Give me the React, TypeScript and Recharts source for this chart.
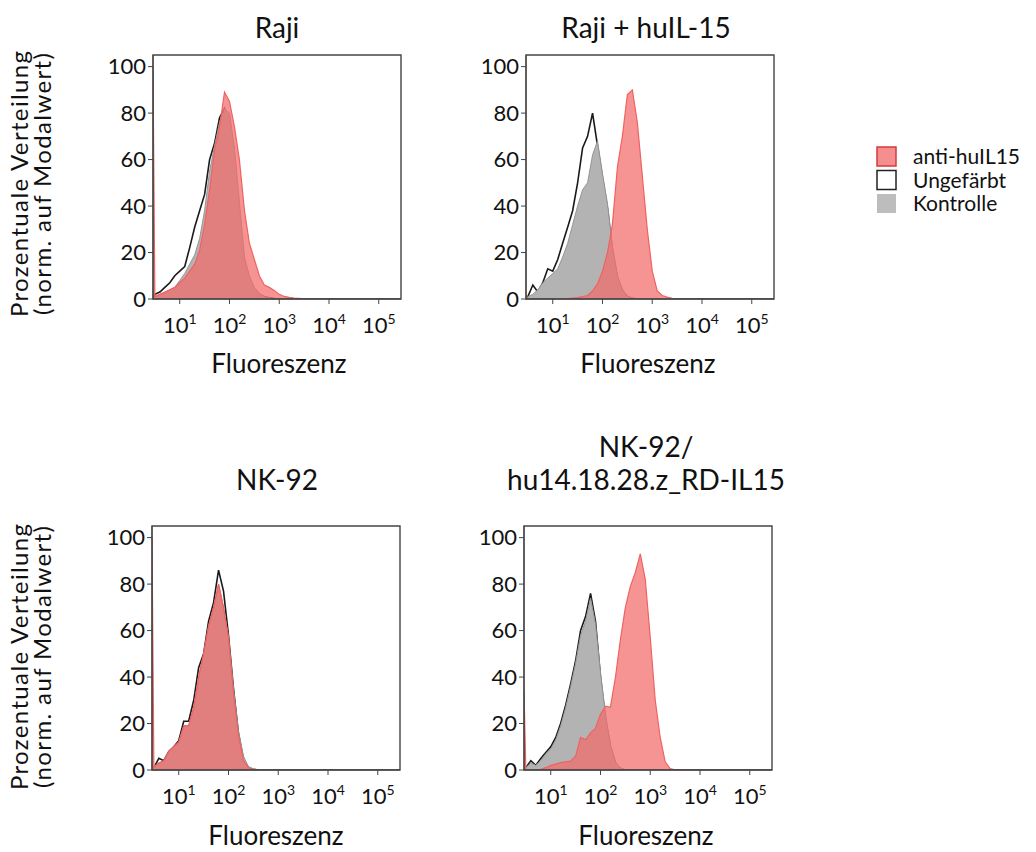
import React from 'react';
import { AreaChart, Area, XAxis, YAxis, ReferenceArea } from 'recharts';

const FONT = 'Lato, "Open Sans", sans-serif';

// log-spaced fluorescence bins shared by all panels (first/last = axis limits)
const FLUOR = [
  2.9, 3.16, 3.98, 5.01, 6.31, 7.94, 10, 12.6, 15.8, 20, 25.1, 31.6, 39.8, 50.1, 63.1, 79.4,
  100, 126, 158, 200, 251, 316, 398, 501, 631, 794, 1000, 1259, 1585, 1995, 2512, 3162, 3981,
  5012, 280000,
];
const X_TICKS = [10, 100, 1000, 10000, 100000];
const Y_TICKS = [0, 20, 40, 60, 80, 100];

// Raji
const RAJI_ANTI = [100, 1, 2, 3, 4, 5, 7, 9, 12, 15, 21, 32, 47, 64, 74, 89, 85, 74, 60, 38, 24, 17, 10, 6, 5, 3.7, 2, 1.1, 0.7, 0.4, 0.3, 0.1, 0, 0, 0];
const RAJI_UNST = [0, 2, 3, 5, 7, 10, 12, 14, 22, 31, 38, 45, 60, 67, 78, 82, 72, 50, 30, 16, 8, 4, 2, 1, 0.5, 0.2, 0, 0, 0, 0, 0, 0, 0, 0, 0];
const RAJI_CTRL = [0, 1, 2, 2.5, 4, 5, 8, 11, 15, 19, 26, 38, 55, 66, 76, 82, 80, 65, 42, 18, 10, 5, 2.5, 1, 0.5, 0, 0, 0, 0, 0, 0, 0, 0, 0, 0];

// Raji + huIL-15
const RAJI15_ANTI = [1.5, 0, 0, 0, 0, 0, 0, 0, 0, 0.2, 0.4, 0.6, 1, 1.5, 3.5, 6.5, 12, 20, 32, 57, 70, 88, 90, 76, 53, 30, 12, 3.5, 1.5, 0.8, 0.3, 0.1, 0, 0, 0];
const RAJI15_UNST = [0, 1, 6, 3, 7, 13, 12, 17, 24, 31, 38, 50, 65, 70, 80, 66, 52, 39, 21, 9, 3.5, 1, 0.3, 0, 0, 0, 0, 0, 0, 0, 0, 0, 0, 0, 0];
const RAJI15_CTRL = [0, 1, 2, 4, 7, 9, 11, 13, 18, 24, 32, 40, 47, 50, 62, 68, 54, 41, 23, 10, 4, 1.2, 0.3, 0, 0, 0, 0, 0, 0, 0, 0, 0, 0, 0, 0];

// NK-92
const NK_ANTI = [100, 1.5, 3, 4, 8, 10, 12, 19, 19, 27, 40, 50, 62, 70, 80, 70, 57, 33, 15, 4, 1, 0.3, 0, 0, 0, 0, 0, 0, 0, 0, 0, 0, 0, 0, 0];
const NK_UNST = [0, 1, 5, 4, 8, 10, 12.6, 21, 21, 30, 44, 50, 64, 72, 86, 77, 58, 35, 16, 4.5, 1, 0.3, 0, 0, 0, 0, 0, 0, 0, 0, 0, 0, 0, 0, 0];
const NK_CTRL = [0, 1, 3, 4, 8, 10, 12, 19, 19, 27, 40, 50, 62, 70, 80, 70, 57, 35, 17, 6, 1.5, 0.5, 0, 0, 0, 0, 0, 0, 0, 0, 0, 0, 0, 0, 0];

// NK-92 / hu14.18.28.z_RD-IL15
const CAR_ANTI = [34, 0, 0, 0, 0.3, 1, 2, 2.5, 3.2, 3.5, 3.8, 6, 14, 13, 16, 18, 24, 27.5, 27, 40, 56, 70, 79, 85, 93, 82, 57, 30, 14, 3.5, 0.6, 0.1, 0, 0, 0];
const CAR_UNST = [0, 1, 4, 2, 5, 7.5, 10, 14, 20, 28, 37, 47, 60, 66, 76, 64, 40, 22, 10, 3, 0.5, 0, 0, 0, 0, 0, 0, 0, 0, 0, 0, 0, 0, 0, 0];
const CAR_CTRL = [0, 1, 3, 2, 4, 7, 9, 13, 19, 27, 36, 46, 58, 64, 74, 63, 42, 24, 11, 3.5, 1, 0, 0, 0, 0, 0, 0, 0, 0, 0, 0, 0, 0, 0, 0];

const LEGEND = ['anti-huIL15', 'Ungefärbt', 'Kontrolle'];

function PowTick(props: any) {
  const { x, y, payload } = props;
  const exp = Math.round(Math.log10(payload.value));
  return (
    <text x={x} y={y + 27} textAnchor="middle" fontFamily={FONT} fontSize={22} fill="#111">
      10
      <tspan dy={-9} fontSize={14}>
        {exp}
      </tspan>
    </text>
  );
}

function Histogram({ anti, unst, ctrl, left, top }: any) {
  const data = FLUOR.map((x, i) => ({ x, anti: anti[i], unst: unst[i], ctrl: ctrl[i] }));
  return (
    <div style={{ position: 'absolute', left, top }}>
      <AreaChart width={320} height={320} data={data} margin={{ top: 15, right: 19, bottom: 0, left: 0 }}>
        <XAxis
          dataKey="x"
          type="number"
          scale="log"
          domain={[2.9, 280000]}
          allowDataOverflow
          ticks={X_TICKS}
          interval={0}
          tick={<PowTick />}
          tickSize={5}
          height={61}
          stroke="#444"
        />
        <YAxis
          type="number"
          domain={[0, 105]}
          allowDataOverflow
          ticks={Y_TICKS}
          interval={0}
          tickSize={5}
          width={53}
          stroke="#444"
          tick={{ fontSize: 22, fill: '#111', fontFamily: FONT }}
        />
        <Area type="linear" dataKey="unst" stroke="#1a1a1a" strokeWidth={1.6} fill="none" isAnimationActive={false} />
        <Area type="linear" dataKey="ctrl" stroke="#959595" strokeWidth={1} fill="#b3b3b3" fillOpacity={1} isAnimationActive={false} />
        <Area type="linear" dataKey="anti" stroke="#f06262" strokeWidth={1.2} fill="#f26b6b" fillOpacity={0.72} isAnimationActive={false} />
        <ReferenceArea x1={2.9} x2={280000} y1={0} y2={105} fill="none" stroke="#444" strokeWidth={1.4} />
      </AreaChart>
    </div>
  );
}

function YLabel({ cy }: { cy: number }) {
  return (
    <g fontFamily={FONT} fontSize={24} fill="#111" textAnchor="middle">
      <text transform={`translate(28,${cy}) rotate(-90)`} textLength={266} lengthAdjust="spacing">
        Prozentuale Verteilung
      </text>
      <text transform={`translate(51,${cy}) rotate(-90)`} textLength={262} lengthAdjust="spacing">
        (norm. auf Modalwert)
      </text>
    </g>
  );
}

export default function App() {
  const legendFill = ['#f58e8e', '#ffffff', '#bdbdbd'];
  const legendStroke = ['#d83a3a', '#222', 'none'];
  return (
    <div style={{ position: 'absolute', left: 0, top: 0, width: 1036, height: 852, background: '#fff' }}>
      <Histogram anti={RAJI_ANTI} unst={RAJI_UNST} ctrl={RAJI_CTRL} left={100} top={40} />
      <Histogram anti={RAJI15_ANTI} unst={RAJI15_UNST} ctrl={RAJI15_CTRL} left={473} top={40} />
      <Histogram anti={NK_ANTI} unst={NK_UNST} ctrl={NK_CTRL} left={99} top={511} />
      <Histogram anti={CAR_ANTI} unst={CAR_UNST} ctrl={CAR_CTRL} left={471} top={511} />
      <svg width={1036} height={852} style={{ position: 'absolute', left: 0, top: 0, pointerEvents: 'none' }}>
        <g fontFamily={FONT} fontSize={28} fill="#111" textAnchor="middle">
          <text x={277} y={38}>Raji</text>
          <text x={646} y={38}>Raji + huIL-15</text>
          <text x={277} y={490}>NK-92</text>
          <text x={646} y={457}>NK-92/</text>
          <text x={646} y={490}>hu14.18.28.z_RD-IL15</text>
        </g>
        <g fontFamily={FONT} fontSize={26} fill="#111" textAnchor="middle">
          <text x={279} y={373}>Fluoreszenz</text>
          <text x={648} y={373}>Fluoreszenz</text>
          <text x={276} y={845}>Fluoreszenz</text>
          <text x={646} y={845}>Fluoreszenz</text>
        </g>
        <YLabel cy={184} />
        <YLabel cy={657} />
        <g fontFamily={FONT} fontSize={21} fill="#111">
          {LEGEND.map((name, i) => (
            <g key={name}>
              <rect x={877} y={147 + i * 23.5} width={19} height={19} fill={legendFill[i]} stroke={legendStroke[i]} strokeWidth={1.5} />
              <text x={913} y={164 + i * 23.5}>{name}</text>
            </g>
          ))}
        </g>
      </svg>
    </div>
  );
}
